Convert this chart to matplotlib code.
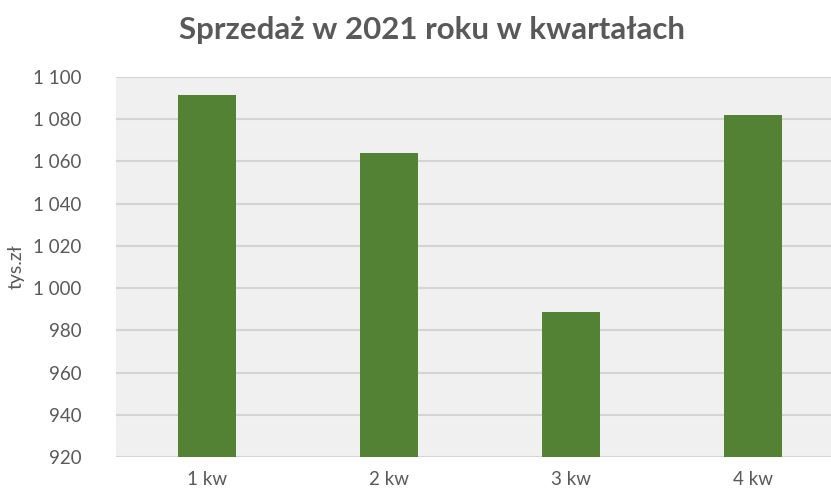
import matplotlib.pyplot as plt
from matplotlib.ticker import FuncFormatter

# Dane
kwartaly = ["1 kw", "2 kw", "3 kw", "4 kw"]
sprzedaz = [1091.5, 1064, 988.5, 1082]
y_ticks = list(range(920, 1101, 20))

plt.rcParams['font.family'] = ['Lato', 'DejaVu Sans']
tekst = '#595959'

fig = plt.figure(figsize=(8.31, 4.94), dpi=100)
ax = fig.add_axes([116 / 831, 1 - 457 / 494, 715 / 831, 380 / 494])

ax.set_facecolor('#f0f0f0')
ax.bar(range(len(kwartaly)), sprzedaz, width=0.315, color='#548235', zorder=3)

ax.set_xlim(-0.5, -0.5 + 715 / 182)
ax.set_ylim(920, 1100)
ax.set_yticks(y_ticks)
ax.yaxis.set_major_formatter(FuncFormatter(lambda v, p: f"{int(v):,}".replace(",", " ")))
ax.set_xticks(range(len(kwartaly)))
ax.set_xticklabels(kwartaly)

ax.grid(axis='y', color='#d4d4d4', linewidth=1.5, zorder=1)
for s in ax.spines.values():
    s.set_visible(False)
ax.tick_params(length=0, colors=tekst, labelsize=13.5)
ax.tick_params(axis='y', pad=25)
ax.tick_params(axis='x', pad=10)

ax.set_ylabel("tys.zł", color=tekst, fontsize=14, labelpad=6)
fig.text(0.52, 1 - 30 / 494, "Sprzedaż w 2021 roku w kwartałach", ha='center', va='center',
         fontsize=22.5, fontweight='bold', color=tekst)

fig.savefig("out.png", dpi=100)
